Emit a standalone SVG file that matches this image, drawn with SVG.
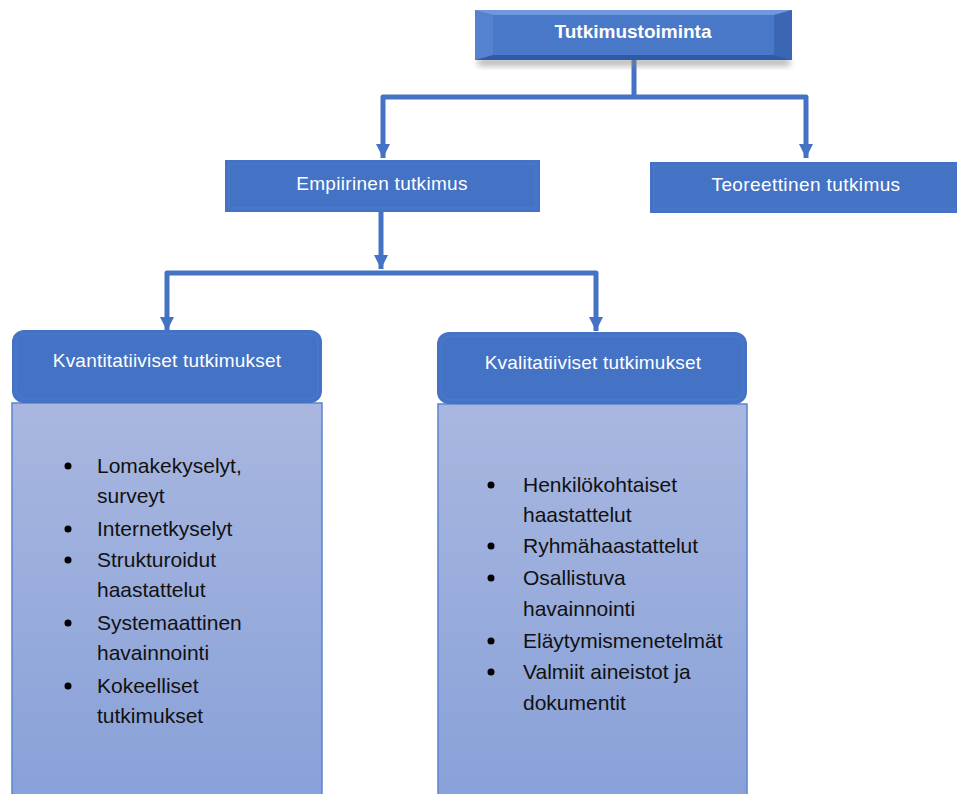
<svg xmlns="http://www.w3.org/2000/svg" width="957" height="794" viewBox="0 0 957 794">
  <defs>
    <linearGradient id="topFill" x1="0" y1="0" x2="0" y2="1">
      <stop offset="0" stop-color="#5B8AD8"/>
      <stop offset="1" stop-color="#3D69B8"/>
    </linearGradient>
    <linearGradient id="bodyFill" x1="0" y1="0" x2="0" y2="1">
      <stop offset="0" stop-color="#A9B7E0"/>
      <stop offset="1" stop-color="#88A1D8"/>
    </linearGradient>
    <filter id="shadow" x="-10%" y="-30%" width="120%" height="180%">
      <feGaussianBlur stdDeviation="3"/>
    </filter>
    <marker id="arrow" viewBox="0 0 14 14" refX="14" refY="7" markerWidth="14" markerHeight="14" markerUnits="userSpaceOnUse" orient="auto">
      <path d="M0,0 L14,7 L0,14 Z" fill="#4472C4"/>
    </marker>
  </defs>
  <style>
    .hdr { fill: #4472C4; }
    .bevel { fill: none; stroke: #4A79CA; stroke-width: 1.5; }
    .lbl { font-family: "Liberation Sans", Arial, sans-serif; font-size: 19px; fill: #FFFFFF; text-anchor: middle; }
    .item { font-family: "Liberation Sans", Arial, sans-serif; font-size: 21px; fill: #111111; }
    .body { fill: url(#bodyFill); stroke: #5B84CF; stroke-width: 1.5; }
    .dot { fill: #000000; }
    .conn { fill: none; stroke: #4472C4; stroke-width: 5; stroke-linejoin: round; }
  </style>

  <!-- connectors -->
  <g id="connectors">
    <polyline class="conn" points="634,60 634,97"/>
    <polyline class="conn" points="634,97 383,97 383,158" marker-end="url(#arrow)"/>
    <polyline class="conn" points="634,97 806,97 806,158" marker-end="url(#arrow)"/>
    <polyline class="conn" points="381,212 381,269" marker-end="url(#arrow)"/>
    <polyline class="conn" points="381,273 167,273 167,331" marker-end="url(#arrow)"/>
    <polyline class="conn" points="381,273 596,273 596,331" marker-end="url(#arrow)"/>
  </g>

  <!-- root -->
  <g id="node-tutkimustoiminta">
    <rect x="478" y="58" width="312" height="8" fill="#888888" opacity="0.6" filter="url(#shadow)"/>
    <rect x="475" y="10" width="317" height="50" fill="url(#topFill)"/>
    <rect x="493" y="15" width="281" height="40" fill="#4A78C8"/>
    <path d="M475,10 L792,10 L774,15 L493,15 Z" fill="#6F98DF"/>
    <path d="M475,60 L792,60 L774,55 L493,55 Z" fill="#2F5AA6"/>
    <path d="M475,10 L493,15 L493,55 L475,60 Z" fill="#5581CF"/>
    <path d="M792,10 L774,15 L774,55 L792,60 Z" fill="#3A66B4"/>
    <text class="lbl" x="633" y="38" font-weight="bold" font-size="18">Tutkimustoiminta</text>
  </g>

  <!-- second level -->
  <g id="node-empiirinen">
    <rect class="hdr" x="225" y="160" width="315" height="52"/>
    <rect class="bevel" x="229" y="164" width="307" height="44"/>
    <text class="lbl" x="382" y="190" letter-spacing="0.3">Empiirinen tutkimus</text>
  </g>
  <g id="node-teoreettinen">
    <rect class="hdr" x="650" y="162" width="310" height="51"/>
    <rect class="bevel" x="654" y="166" width="310" height="43"/>
    <text class="lbl" x="806" y="191" letter-spacing="0.4">Teoreettinen tutkimus</text>
  </g>

  <!-- quantitative branch -->
  <g id="node-kvantitatiiviset">
    <rect class="body" x="12" y="403" width="310" height="395"/>
    <rect class="hdr" x="12" y="330" width="310" height="73" rx="12"/>
    <rect class="bevel" x="16" y="334" width="302" height="65" rx="9"/>
    <text class="lbl" x="167" y="367" letter-spacing="0.2">Kvantitatiiviset tutkimukset</text>
    <circle class="dot" cx="68" cy="466" r="3.5"/>
    <text class="item" x="97" y="473">Lomakekyselyt,</text>
    <text class="item" x="97" y="503">surveyt</text>
    <circle class="dot" cx="68" cy="529" r="3.5"/>
    <text class="item" x="97" y="536">Internetkyselyt</text>
    <circle class="dot" cx="68" cy="560" r="3.5"/>
    <text class="item" x="97" y="567">Strukturoidut</text>
    <text class="item" x="97" y="597">haastattelut</text>
    <circle class="dot" cx="68" cy="623" r="3.5"/>
    <text class="item" x="97" y="630">Systemaattinen</text>
    <text class="item" x="97" y="660">havainnointi</text>
    <circle class="dot" cx="68" cy="686" r="3.5"/>
    <text class="item" x="97" y="693">Kokeelliset</text>
    <text class="item" x="97" y="723">tutkimukset</text>
  </g>

  <!-- qualitative branch -->
  <g id="node-kvalitatiiviset">
    <rect class="body" x="438" y="404" width="309" height="394"/>
    <rect class="hdr" x="437" y="332" width="310" height="72" rx="12"/>
    <rect class="bevel" x="441" y="336" width="302" height="64" rx="9"/>
    <text class="lbl" x="593" y="369" letter-spacing="0.2">Kvalitatiiviset tutkimukset</text>
    <circle class="dot" cx="491" cy="485" r="3.5"/>
    <text class="item" x="523" y="492">Henkilökohtaiset</text>
    <text class="item" x="523" y="522">haastattelut</text>
    <circle class="dot" cx="491" cy="546" r="3.5"/>
    <text class="item" x="523" y="553">Ryhmähaastattelut</text>
    <circle class="dot" cx="491" cy="578" r="3.5"/>
    <text class="item" x="523" y="585">Osallistuva</text>
    <text class="item" x="523" y="616">havainnointi</text>
    <circle class="dot" cx="491" cy="641" r="3.5"/>
    <text class="item" x="523" y="648">Eläytymismenetelmät</text>
    <circle class="dot" cx="491" cy="672" r="3.5"/>
    <text class="item" x="523" y="679">Valmiit aineistot ja</text>
    <text class="item" x="523" y="710">dokumentit</text>
  </g>
</svg>
